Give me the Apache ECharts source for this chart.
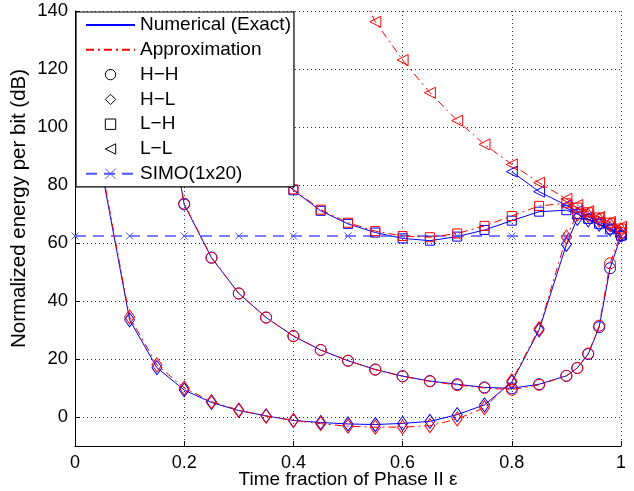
<!DOCTYPE html>
<html>
<head>
<meta charset="utf-8">
<script src="https://cdn.jsdelivr.net/npm/echarts@6/dist/echarts.min.js"></script>
<style>html,body{margin:0;padding:0;background:#fff;}#c{width:634px;height:491px;}</style>
</head>
<body>
<div id="c"></div>
<script>
// ---- data ----
const xTicks = [0, 0.2, 0.4, 0.6, 0.8, 1];
const yTicks = [0, 20, 40, 60, 80, 100, 120, 140];

const epsHH = [0.15,0.2,0.25,0.3,0.35,0.4,0.45,0.5,0.55,0.6,0.65,0.7,0.75,0.8,0.85,0.9,0.92,0.94,0.96,0.98,1.0];
const hhExact = [126,73.3,54.9,42.6,34.3,27.9,23.1,19.4,16.4,14.1,12.4,11.3,10.2,9.9,11.3,14.2,16.9,21.7,31,51.3,62.5];
const hhApprox = [126,73.6,55,42.6,34.3,27.9,23.1,19.4,16.3,14.0,12.3,11.0,10.0,9.4,11.1,14.2,16.9,21.9,31.5,53,63.5];

const epsHL = [0.05,0.1,0.15,0.2,0.25,0.3,0.35,0.4,0.45,0.5,0.55,0.6,0.65,0.7,0.75,0.8,0.85,0.9,0.92,0.94,0.96,0.98,1.0];
const hlExact = [84,33.5,17,9.3,5,2.2,0.4,-1.2,-1.9,-2.4,-2.6,-2.2,-1.5,0.8,4.2,12,30,59.5,68.5,68,66.5,64.8,62.8];
const hlApprox = [85,34.5,18,10,5.3,2.4,0.3,-1.2,-2.3,-3.2,-3.5,-3.5,-3.0,-0.7,3.2,12.5,30.5,62,70,69.5,68,66.3,64.5];

const epsLH = [0.35,0.4,0.45,0.5,0.55,0.6,0.65,0.7,0.75,0.8,0.85,0.9,0.92,0.94,0.96,0.98,1.0];
const lhExact = [87,78.2,71.1,66.6,63.6,61.6,60.8,62.2,64.5,67.7,70.8,71.3,70,68.3,66.6,64.7,62.5];
const lhApprox = [87.5,78.5,71.5,67,64.1,62.4,62,63.3,65.9,69.3,72.8,73.7,72.2,70.6,68.8,67,65];

const epsLLExact = [0.8,0.85,0.9,0.92,0.94,0.96,0.98,1.0];
const llExact = [84.6,77.7,73,71,69,67.2,65.2,63];
const epsLLApprox = [0.5,0.55,0.6,0.65,0.7,0.75,0.8,0.85,0.9,0.92,0.94,0.96,0.98,1.0];
const llApprox = [155,136.3,123.1,111.8,102.2,94,87.1,80.8,75.2,73.1,71,69,67.3,65.6];

const epsSIMO = [0,0.1,0.2,0.3,0.4,0.5,0.6,0.7,0.8,0.9,1.0];
const simo = [62.4,62.4,62.4,62.4,62.4,62.4,62.4,62.4,62.4,62.4,62.4];

const legendNames = ['Numerical (Exact)','Approximation','H\u2212H','H\u2212L','L\u2212H','L\u2212L','SIMO(1x20)'];

// ---- styling ----
const FONT = '"Liberation Sans", Arial, Helvetica, sans-serif';
const BLUE = '#0000ff';
const RED = '#ff0000';
const SIMO_BLUE = '#4d55ff';
const DASHDOT = [8,4,2,4];
const XSYM = 'path://M0,0L10,10M10,0L0,10';
const CLEAR = 'rgba(255,255,255,0)';

function pairs(xs, ys){ return xs.map((x,i)=>[x, ys[i]]); }

function curve(name, xs, ys, color, dash, symbol, size, rotate){
  return {
    name: name, type: 'line', data: pairs(xs, ys),
    symbol: symbol, symbolSize: size, symbolRotate: rotate || 0,
    showAllSymbol: true, clip: true,
    lineStyle: {color: color, width: 1, type: dash},
    itemStyle: {color: CLEAR, borderColor: color, borderWidth: 1},
    emphasis: {disabled: true}, z: color === RED ? 3 : 2
  };
}

const series = [
  curve('hhE', epsHH, hhExact, BLUE, 'solid', 'circle', 11),
  curve('hlE', epsHL, hlExact, BLUE, 'solid', 'diamond', [10,14]),
  curve('lhE', epsLH, lhExact, BLUE, 'solid', 'rect', 9),
  curve('llE', epsLLExact, llExact, BLUE, 'solid', 'triangle', 11, 90),
  curve('hhA', epsHH, hhApprox, RED, DASHDOT, 'circle', 11),
  curve('hlA', epsHL, hlApprox, RED, DASHDOT, 'diamond', [10,14]),
  curve('lhA', epsLH, lhApprox, RED, DASHDOT, 'rect', 9),
  curve('llA', epsLLApprox, llApprox, RED, DASHDOT, 'triangle', 11, 90),
  {
    name: 'simo', type: 'line', data: pairs(epsSIMO, simo),
    symbol: XSYM, symbolSize: 7, showAllSymbol: true,
    lineStyle: {color: SIMO_BLUE, width: 1.5, type: [11,7]},
    itemStyle: {color: CLEAR, borderColor: SIMO_BLUE, borderWidth: 1},
    emphasis: {disabled: true}, z: 2
  },
  // legend-only entries
  {name: legendNames[0], type:'line', data: [], symbol:'circle',
   lineStyle:{color: BLUE, width: 1}, itemStyle:{color: CLEAR, borderColor: CLEAR}},
  {name: legendNames[1], type:'line', data: [], symbol:'circle',
   lineStyle:{color: RED, width: 1, type: DASHDOT}, itemStyle:{color: CLEAR, borderColor: CLEAR}},
  {name: legendNames[2], type:'line', data: [], symbol:'circle',
   lineStyle:{color: CLEAR, width: 0}, itemStyle:{color: CLEAR, borderColor: '#000', borderWidth: 1}},
  {name: legendNames[3], type:'line', data: [], symbol:'diamond',
   lineStyle:{color: CLEAR, width: 0}, itemStyle:{color: CLEAR, borderColor: '#000', borderWidth: 1}},
  {name: legendNames[4], type:'line', data: [], symbol:'rect',
   lineStyle:{color: CLEAR, width: 0}, itemStyle:{color: CLEAR, borderColor: '#000', borderWidth: 1}},
  {name: legendNames[5], type:'line', data: [], symbol:'triangle', symbolRotate: 90,
   lineStyle:{color: CLEAR, width: 0}, itemStyle:{color: CLEAR, borderColor: '#000', borderWidth: 1}},
  {name: legendNames[6], type:'line', data: [], symbol: XSYM,
   lineStyle:{color: SIMO_BLUE, width: 1.5, type: [11,7]}, itemStyle:{color: CLEAR, borderColor: SIMO_BLUE, borderWidth: 1}}
];

const gridLine = {show: true, lineStyle: {color: '#333', width: 1, type: [1,3]}};

const option = {
  animation: false,
  backgroundColor: '#fff',
  grid: {left: 75, right: 13, top: 11, bottom: 45, containLabel: false, outerBoundsMode: 'none'},
  xAxis: {
    type: 'value', min: 0, max: 1, interval: 0.2,
    name: 'Time fraction of Phase II \u03b5', nameLocation: 'middle', nameGap: 24, nameMoveOverlap: false,
    nameTextStyle: {fontSize: 19, color: '#000', fontFamily: FONT},
    axisLine: {show: true, onZero: false, lineStyle: {color: '#000', width: 1}},
    axisTick: {show: true, inside: true, length: 5, lineStyle: {color: '#000'}},
    axisLabel: {color: '#000', fontSize: 18, fontFamily: FONT, margin: 8,
      formatter: v => String(+v.toFixed(1))},
    splitLine: gridLine
  },
  yAxis: {
    type: 'value', min: -10, max: 140,
    name: 'Normalized energy per bit (dB)', nameLocation: 'middle', nameGap: 45, nameRotate: 90, nameMoveOverlap: false,
    nameTextStyle: {fontSize: 20.5, color: '#000', fontFamily: FONT, padding: [0,0,0,40]},
    axisLine: {show: true, onZero: false, lineStyle: {color: '#000', width: 1}},
    axisTick: {show: true, inside: true, length: 5, lineStyle: {color: '#000'}, customValues: yTicks},
    axisLabel: {color: '#000', fontSize: 18.5, fontFamily: FONT, margin: 7, customValues: yTicks},
    splitLine: gridLine
  },
  legend: {
    orient: 'vertical', left: 76, top: 12,
    padding: [3.5, 3, 3.5, 9], itemGap: 5.8, itemWidth: 49, itemHeight: 13,
    backgroundColor: '#fff', borderColor: '#000', borderWidth: 1.2, borderRadius: 0,
    textStyle: {fontSize: 19, color: '#000', fontFamily: FONT, lineHeight: 19},
    itemStyle: {borderWidth: 1},
    selectedMode: false,
    data: legendNames
  },
  series: series
};

const chart = echarts.init(document.getElementById('c'), null, {renderer: 'canvas'});
chart.setOption(option);
</script>
</body>
</html>
